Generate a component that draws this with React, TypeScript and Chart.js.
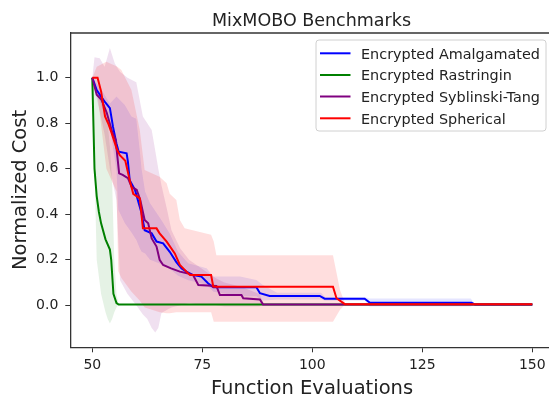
import React, { useEffect, useRef } from 'react';
import { Chart, registerables } from 'chart.js';

Chart.register(...registerables);

// ---- Text ----
const TITLE = 'MixMOBO Benchmarks';
const X_TITLE = 'Function Evaluations';
const Y_TITLE = 'Normalized Cost';
const X_TICKS = [50, 75, 100, 125, 150];
const Y_TICKS = [0, 0.2, 0.4, 0.6, 0.8, 1.0];
const SERIES_NAMES = [
  'Encrypted Amalgamated',
  'Encrypted Rastringin',
  'Encrypted Syblinski-Tang',
  'Encrypted Spherical',
];

// ---- Mean lines ----
const blueX = [50, 51, 52, 53, 54, 54.7, 55.5, 56, 57.8, 58.1, 58.5, 59.7, 61.2, 61.9, 63.5, 64.6, 66.1, 67.6, 69.1, 70.3, 71.4, 72.9, 74.8, 76.3, 77.5, 87.3, 88.1, 90.3, 101.7, 102.8, 111.9, 113.1, 136.2, 137, 150];
const blueY = [1.0, 0.946, 0.917, 0.89, 0.866, 0.785, 0.71, 0.675, 0.668, 0.63, 0.55, 0.507, 0.404, 0.33, 0.316, 0.28, 0.272, 0.235, 0.19, 0.162, 0.148, 0.133, 0.126, 0.097, 0.079, 0.079, 0.053, 0.041, 0.041, 0.029, 0.029, 0.011, 0.011, 0.003, 0.003];

const greenX = [50, 50.5, 51, 51.5, 52, 53, 54, 54.3, 54.8, 55.5, 56, 150];
const greenY = [1.0, 0.6, 0.48, 0.41, 0.36, 0.29, 0.245, 0.2, 0.05, 0.01, 0.003, 0.003];

const purpleX = [50, 51, 52.1, 53.3, 54.5, 55.3, 56.1, 56.9, 58.1, 58.9, 60.1, 60.9, 61.9, 62.7, 63.5, 64.6, 65.3, 66.1, 67.9, 69.9, 71.8, 72.9, 74.1, 78.2, 79, 83.9, 84.3, 88.1, 88.8, 150];
const purpleY = [1.0, 0.925, 0.903, 0.845, 0.764, 0.727, 0.58, 0.573, 0.559, 0.522, 0.507, 0.463, 0.375, 0.36, 0.294, 0.258, 0.2, 0.177, 0.162, 0.148, 0.14, 0.133, 0.089, 0.085, 0.045, 0.045, 0.031, 0.026, 0.004, 0.004];

const redX = [50, 51.2, 52, 52.9, 53.6, 54.4, 55.5, 56.25, 57.5, 58.5, 59.3, 60.8, 61.5, 64.6, 65.3, 66.9, 68.75, 69.9, 71.4, 72.2, 77, 77.5, 104.7, 105.5, 107.4, 150];
const redY = [1.0, 1.0, 0.94, 0.83, 0.8, 0.756, 0.69, 0.66, 0.635, 0.55, 0.49, 0.47, 0.338, 0.338, 0.316, 0.28, 0.228, 0.177, 0.148, 0.133, 0.133, 0.082, 0.082, 0.031, 0.005, 0.005];

// ---- Spread bands (upper / lower) ----
const greenBandX = [50, 50.5, 51, 52, 53, 53.5, 54, 54.5, 55, 55.5, 56, 150];
const greenBandUpper = [1.0, 0.97, 0.95, 0.92, 0.86, 0.8, 0.7, 0.55, 0.2, 0.05, 0.003, 0.003];
const greenBandLower = [1.0, 0.6, 0.2, 0.05, -0.03, -0.06, -0.08, -0.06, -0.03, -0.01, 0.003, 0.003];

const blueBandX = [50, 52, 54, 55.5, 55.9, 57.4, 58.9, 60, 60.8, 61.2, 62, 63.1, 65.7, 67.6, 69.5, 71.8, 76, 77.5, 83.6, 87.3, 88.7, 92, 102, 103, 112, 113, 136, 137, 150];
const blueBandUpper = [1.0, 0.95, 0.887, 0.917, 0.91, 0.88, 0.83, 0.82, 0.68, 0.6, 0.5, 0.45, 0.375, 0.316, 0.235, 0.185, 0.163, 0.126, 0.126, 0.111, 0.09, 0.055, 0.055, 0.035, 0.035, 0.03, 0.03, 0.003, 0.003];
const blueBandLower = [1.0, 0.88, 0.78, 0.59, 0.42, 0.36, 0.32, 0.287, 0.25, 0.235, 0.228, 0.2, 0.18, 0.16, 0.13, 0.11, 0.09, 0.06, 0.04, 0.04, 0.02, 0.025, 0.025, 0.02, 0.02, -0.005, -0.005, 0.003, 0.003];

const purpleBandX = [50, 50.5, 51.7, 52.8, 54, 55.1, 55.5, 56.3, 58, 60, 61.5, 62.5, 63.5, 64.3, 65, 65.7, 67, 68, 70, 72, 75, 78, 80, 84, 88, 89, 150];
const purpleBandUpper = [1.0, 1.09, 1.085, 1.048, 1.13, 1.063, 1.05, 1.026, 1.0, 0.98, 0.83, 0.8, 0.77, 0.68, 0.6, 0.53, 0.42, 0.33, 0.25, 0.2, 0.16, 0.12, 0.1, 0.08, 0.05, 0.005, 0.005];
const purpleBandLower = [1.0, 0.95, 0.85, 0.75, 0.6, 0.5, 0.46, 0.11, 0.05, 0.0, -0.04, -0.06, -0.1, -0.12, -0.1, -0.035, -0.02, -0.01, 0.0, 0.01, 0.0, 0.0, -0.005, -0.005, -0.005, 0.003, 0.003];

const redBandX = [50, 51, 53.2, 55.5, 55.9, 56.6, 58.9, 60.8, 61.9, 65.3, 66.9, 67.6, 69.1, 69.9, 71, 77, 77.6, 78.2, 104.7, 106.3, 107.5, 150];
const redBandUpper = [1.0, 1.048, 1.07, 1.05, 1.045, 1.034, 0.946, 0.77, 0.594, 0.565, 0.536, 0.49, 0.463, 0.375, 0.338, 0.31, 0.28, 0.22, 0.22, 0.067, 0.005, 0.005];
const redBandLower = [1.0, 0.95, 0.6, 0.5, 0.15, 0.12, 0.06, 0.02, -0.01, -0.03, -0.035, -0.035, -0.03, -0.03, -0.03, -0.03, -0.072, -0.072, -0.072, -0.02, 0.005, 0.005];

// ---- Styles ----
const LINE_COLORS = ['#0000ff', '#008000', '#800080', '#ff0000'];
const BAND_COLORS = ['rgba(0,0,255,0.10)', 'rgba(0,128,0,0.10)', 'rgba(128,0,128,0.12)', 'rgba(255,0,0,0.13)'];
const FONT = '"DejaVu Sans", sans-serif';
const TEXT_COLOR = '#222';
const AXIS_COLOR = '#333';

const W = 549;
const H = 402;
const CANVAS_W = 555; // axes extend slightly past the visible window, as in the reference
const AREA_LEFT = 70.3;
const AREA_TOP = 33;
const AREA_BOTTOM = 347.3;

const pts = (xs: number[], ys: number[]) => xs.map((x, i) => ({ x, y: ys[i] }));

const bandPair = (xs: number[], up: number[], lo: number[], color: string, order: number) => [
  {
    label: '',
    data: pts(xs, up),
    borderWidth: 0,
    pointRadius: 0,
    fill: false,
    tension: 0,
    order,
    backgroundColor: color,
    borderColor: 'rgba(0,0,0,0)',
  },
  {
    label: '',
    data: pts(xs, lo),
    borderWidth: 0,
    pointRadius: 0,
    fill: '-1',
    tension: 0,
    order,
    backgroundColor: color,
    borderColor: 'rgba(0,0,0,0)',
  },
];

const lineSet = (xs: number[], ys: number[], idx: number, order: number) => ({
  label: SERIES_NAMES[idx],
  data: pts(xs, ys),
  borderColor: LINE_COLORS[idx],
  backgroundColor: LINE_COLORS[idx],
  borderWidth: 2,
  pointRadius: 0,
  fill: false,
  tension: 0,
  order,
});

const decorPlugin = {
  id: 'decor',
  afterDraw(chart: any) {
    const { ctx, chartArea } = chart;
    ctx.save();
    // top spine
    ctx.strokeStyle = AXIS_COLOR;
    ctx.lineWidth = 1.3;
    ctx.beginPath();
    ctx.moveTo(chartArea.left, chartArea.top);
    ctx.lineTo(chartArea.right, chartArea.top);
    ctx.stroke();

    ctx.fillStyle = TEXT_COLOR;
    ctx.textAlign = 'center';
    ctx.textBaseline = 'alphabetic';
    ctx.font = `17.5px ${FONT}`;
    ctx.fillText(TITLE, 311.5, 26);

    ctx.font = `19.5px ${FONT}`;
    ctx.fillText(X_TITLE, 312, 394);

    ctx.save();
    ctx.translate(25.5, 190);
    ctx.rotate(-Math.PI / 2);
    ctx.fillText(Y_TITLE, 0, 0);
    ctx.restore();

    // legend
    const bx = 316, by = 40, bw = 230, bh = 91;
    ctx.beginPath();
    ctx.roundRect(bx, by, bw, bh, 3);
    ctx.fillStyle = 'rgba(255,255,255,0.85)';
    ctx.fill();
    ctx.strokeStyle = '#d0d0d0';
    ctx.lineWidth = 1;
    ctx.stroke();
    const rowsY = [53.3, 75, 96.5, 118.3];
    ctx.font = `14.4px ${FONT}`;
    ctx.textAlign = 'left';
    SERIES_NAMES.forEach((name, i) => {
      ctx.strokeStyle = LINE_COLORS[i];
      ctx.lineWidth = 2;
      ctx.beginPath();
      ctx.moveTo(320, rowsY[i]);
      ctx.lineTo(350.5, rowsY[i]);
      ctx.stroke();
      ctx.fillStyle = TEXT_COLOR;
      ctx.fillText(name, 361, rowsY[i] + 5.3);
    });
    ctx.restore();
  },
};

export default function App() {
  const ref = useRef<HTMLCanvasElement>(null);

  useEffect(() => {
    if (!ref.current) return;
    const datasets: any[] = [
      ...bandPair(greenBandX, greenBandUpper, greenBandLower, BAND_COLORS[1], 13),
      ...bandPair(blueBandX, blueBandUpper, blueBandLower, BAND_COLORS[0], 12),
      ...bandPair(purpleBandX, purpleBandUpper, purpleBandLower, BAND_COLORS[2], 11),
      ...bandPair(redBandX, redBandUpper, redBandLower, BAND_COLORS[3], 10),
      lineSet(blueX, blueY, 0, 3),
      lineSet(greenX, greenY, 1, 2),
      lineSet(purpleX, purpleY, 2, 1),
      lineSet(redX, redY, 3, 0),
    ];

    const xMax = 45 + (CANVAS_W - AREA_LEFT) / 4.4;
    const yPerPx = 1 / 227.6;
    const yMax = 1 + (77.7 - AREA_TOP) * yPerPx;
    const yMin = -(AREA_BOTTOM - 305.3) * yPerPx;

    const chart = new Chart(ref.current, {
      type: 'line',
      data: { datasets },
      plugins: [decorPlugin],
      options: {
        responsive: false,
        animation: false,
        devicePixelRatio: 1,
        layout: { padding: { top: AREA_TOP, left: 0, right: 0, bottom: 0 } },
        plugins: {
          legend: { display: false },
          tooltip: { enabled: false },
          title: { display: false },
        },
        scales: {
          x: {
            type: 'linear',
            min: 45,
            max: xMax,
            afterBuildTicks: (s: any) => {
              s.ticks = X_TICKS.map((v) => ({ value: v }));
            },
            afterFit: (s: any) => {
              s.height = H - AREA_BOTTOM;
            },
            ticks: {
              autoSkip: false,
              maxRotation: 0,
              padding: 5,
              color: TEXT_COLOR,
              font: { family: FONT, size: 14 },
              callback: (v: any) => String(v),
            },
            grid: { drawOnChartArea: false, drawTicks: true, tickLength: 5, tickColor: AXIS_COLOR, tickWidth: 1 },
            border: { display: true, color: AXIS_COLOR, width: 1.3 },
          },
          y: {
            type: 'linear',
            min: yMin,
            max: yMax,
            afterBuildTicks: (s: any) => {
              s.ticks = Y_TICKS.map((v) => ({ value: v }));
            },
            afterFit: (s: any) => {
              s.width = AREA_LEFT;
            },
            ticks: {
              autoSkip: false,
              padding: 7,
              color: TEXT_COLOR,
              font: { family: FONT, size: 14 },
              callback: (v: any) => Number(v).toFixed(1),
            },
            grid: { drawOnChartArea: false, drawTicks: true, tickLength: 5, tickColor: AXIS_COLOR, tickWidth: 1 },
            border: { display: true, color: AXIS_COLOR, width: 1.3 },
          },
        },
      } as any,
    });
    return () => chart.destroy();
  }, []);

  return (
    <div style={{ position: 'fixed', left: 0, top: 0, width: W, height: H, background: '#fff', overflow: 'hidden' }}>
      <canvas ref={ref} width={CANVAS_W} height={H} style={{ display: 'block', width: CANVAS_W, height: H }} />
    </div>
  );
}
